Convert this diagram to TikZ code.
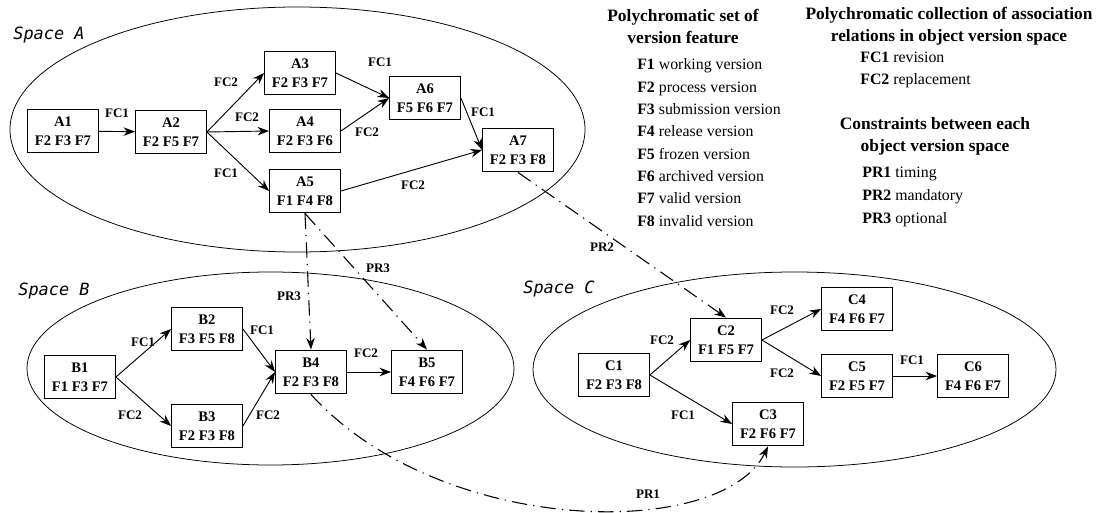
\documentclass[tikz,border=0pt]{standalone}
\usepackage{fontspec}
\setmainfont{Liberation Serif}
\newfontfamily\spacefont{DejaVu Sans Mono}
\usetikzlibrary{arrows.meta}

\tikzset{
  verbox/.style={draw, line width=0.7pt, minimum width=46pt, minimum height=28.5pt,
    inner sep=1pt, align=center, font=\fontsize{9.5}{12.3}\selectfont\bfseries},
  rellab/.style={font=\fontsize{8.5}{9}\selectfont\bfseries, inner sep=0pt},
  spacelab/.style={font=\spacefont\itshape\fontsize{11}{12}\selectfont, inner sep=0pt},
  relarrow/.style={->, line width=0.6pt},
  conarrow/.style={->, line width=0.7pt, dash pattern=on 10pt off 4pt on 0.8pt off 4pt},
  legtitle/.style={font=\fontsize{11.3}{14.3}\selectfont\bfseries, align=center, inner sep=0pt},
  legitem/.style={font=\fontsize{10.3}{12}\selectfont, anchor=base west, inner sep=0pt}
}

\begin{document}
\begin{tikzpicture}[x=0.65pt, y=-0.65pt, >={Stealth[length=7.5pt,width=5.5pt]}]
  \useasboundingbox (0,0) rectangle (1097,513);

  % Drawing the spaces
  \draw[line width=0.5pt] (297.5,129.5) ellipse [x radius=287.5, y radius=122.5];
  \draw[line width=0.5pt] (270.5,368.5) ellipse [x radius=243.5, y radius=96.5];
  \draw[line width=0.5pt] (794.5,369.5) ellipse [x radius=261.5, y radius=97.5];
  \node[spacelab] (spA) at (49,35) {Space A};
  \node[spacelab] (spB) at (54,291) {Space B};
  \node[spacelab] (spC) at (559,289) {Space C};

  % Versions in space A
  \node[verbox] (A1) at (63,131) {A1\\F2 F3 F7};
  \node[verbox] (A2) at (171,132) {A2\\F2 F5 F7};
  \node[verbox] (A3) at (300,73) {A3\\F2 F3 F7};
  \node[verbox] (A4) at (305,131) {A4\\F2 F3 F6};
  \node[verbox] (A5) at (305,191) {A5\\F1 F4 F8};
  \node[verbox] (A6) at (425,98) {A6\\F5 F6 F7};
  \node[verbox] (A7) at (518,150) {A7\\F2 F3 F8};

  % Versions in space B
  \node[verbox] (B1) at (80,377) {B1\\F1 F3 F7};
  \node[verbox] (B2) at (207,329) {B2\\F3 F5 F8};
  \node[verbox] (B3) at (207,426) {B3\\F2 F3 F8};
  \node[verbox] (B4) at (311,372) {B4\\F2 F3 F8};
  \node[verbox] (B5) at (427,372) {B5\\F4 F6 F7};

  % Versions in space C
  \node[verbox] (C1) at (614,375) {C1\\F2 F3 F8};
  \node[verbox] (C2) at (726,340) {C2\\F1 F5 F7};
  \node[verbox] (C3) at (768,424) {C3\\F2 F6 F7};
  \node[verbox] (C4) at (857,309) {C4\\F4 F6 F7};
  \node[verbox] (C5) at (857,376) {C5\\F2 F5 F7};
  \node[verbox] (C6) at (973,376) {C6\\F4 F6 F7};

  % Relations inside the spaces
  \draw[relarrow] (A1) -- (A2);
  \draw[relarrow] (A2.east) -- (A3.west);
  \draw[relarrow] (A2.east) -- (A4.west);
  \draw[relarrow] (A2.east) -- (A5.west);
  \draw[relarrow] (A3.east) -- (A6.west);
  \draw[relarrow] (A4.east) -- (A6.west);
  \draw[relarrow] (A6.east) -- (A7.west);
  \draw[relarrow] (A5.east) -- (A7.west);

  \draw[relarrow] (B1.east) -- (B2.west);
  \draw[relarrow] (B1.east) -- (B3.west);
  \draw[relarrow] (B2.east) -- (B4.west);
  \draw[relarrow] (B3.east) -- (B4.west);
  \draw[relarrow] (B4) -- (B5);

  \draw[relarrow] (C1.east) -- (C2.west);
  \draw[relarrow] (C1.east) -- (C3.west);
  \draw[relarrow] (C2.east) -- (C4.west);
  \draw[relarrow] (C2.east) -- (C5.west);
  \draw[relarrow] (C5) -- (C6);

  % Constraints between the spaces
  \draw[conarrow] (A5.south) -- (B4.north);
  \draw[conarrow] (A5.south) -- (B5.north);
  \draw[conarrow] (A7.south) -- (C2.north);
  \draw[conarrow] (B4.south) .. controls (440,537) and (722,541) .. (C3.south);

  % Labels
  \node[rellab] (l1) at (117,113) {FC1};
  \node[rellab] (l2) at (226,82) {FC2};
  \node[rellab] (l3) at (247,117) {FC2};
  \node[rellab] (l4) at (226,173) {FC1};
  \node[rellab] (l5) at (380,62) {FC1};
  \node[rellab] (l6) at (367,132) {FC2};
  \node[rellab] (l7) at (483,112) {FC1};
  \node[rellab] (l8) at (413,185) {FC2};
  \node[rellab] (l9) at (143,342) {FC1};
  \node[rellab] (l10) at (130,415) {FC2};
  \node[rellab] (l11) at (262,330) {FC1};
  \node[rellab] (l12) at (268,415) {FC2};
  \node[rellab] (l13) at (366,353) {FC2};
  \node[rellab] (l14) at (662,340) {FC2};
  \node[rellab] (l15) at (683,415) {FC1};
  \node[rellab] (l16) at (782,310) {FC2};
  \node[rellab] (l17) at (782,373) {FC2};
  \node[rellab] (l18) at (912,360) {FC1};
  \node[rellab] (l19) at (289,296) {PR3};
  \node[rellab] (l20) at (378,268) {PR3};
  \node[rellab] (l21) at (602,247) {PR2};
  \node[rellab] (l22) at (648,494) {PR1};

  % Legend
  \node[legtitle] (legF) at (683,26) {Polychromatic set of\\version feature};
  \foreach \lab/\txt [count=\i] in {F1/working version, F2/process version,
      F3/submission version, F4/release version, F5/frozen version,
      F6/archived version, F7/valid version, F8/invalid version}
    \node[legitem] (f\i) at (637,{70+22.3*(\i-1)}) {\textbf{\lab} \txt};

  \node[legtitle] (legFC) at (949,26) {Polychromatic collection of association\\relations in object version space};
  \node[legitem] (fc1) at (860,63) {\textbf{FC1} revision};
  \node[legitem] (fc2) at (860,85) {\textbf{FC2} replacement};

  \node[legtitle] (legPR) at (935,136) {Constraints between each\\object version space};
  \node[legitem] (pr1) at (862,177) {\textbf{PR1} timing};
  \node[legitem] (pr2) at (862,200) {\textbf{PR2} mandatory};
  \node[legitem] (pr3) at (862,223) {\textbf{PR3} optional};
\end{tikzpicture}
\end{document}
